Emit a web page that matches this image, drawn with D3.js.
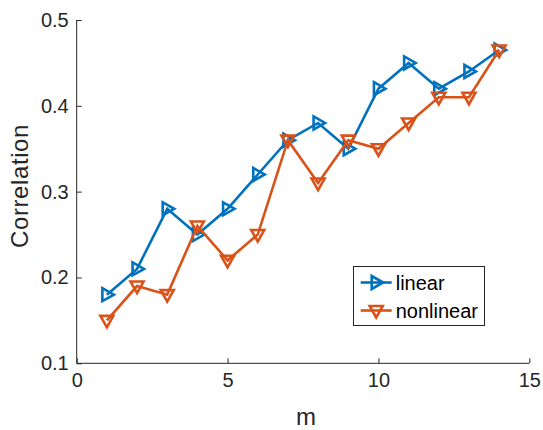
<!DOCTYPE html>
<html><head><meta charset="utf-8">
<script src="https://cdn.jsdelivr.net/npm/d3@7"></script>
<style>body{margin:0;background:#fff}svg{display:block;font-family:"Liberation Sans",Arial,sans-serif}</style>
</head><body>
<svg id="c" width="543" height="430"></svg>
<script>
const m = [1,2,3,4,5,6,7,8,9,10,11,12,13,14];
const linear = [0.18,0.21,0.28,0.25,0.28,0.32,0.36,0.38,0.35,0.42,0.45,0.42,0.44,0.465];
const nonlinear = [0.15,0.19,0.18,0.26,0.22,0.25,0.36,0.31,0.36,0.35,0.38,0.41,0.41,0.465];
const xTicks = [0,5,10,15];
const yTicks = [0.1,0.2,0.3,0.4,0.5];
const seriesNames = ["linear","nonlinear"];
const colors = ["#0072BD","#D95319"];

const svg = d3.select("#c");
const x = d3.scaleLinear().domain([0,15]).range([76.7,529.3]);
const y = d3.scaleLinear().domain([0.1,0.5]).range([363.3,20]);
const axisColor = "#262626";

const xa = svg.append("g").attr("transform","translate(0,363.3)")
  .call(d3.axisBottom(x).tickValues(xTicks).tickSize(-5).tickPadding(10).tickFormat(d3.format("d")));
const ya = svg.append("g").attr("transform","translate(76.7,0)")
  .call(d3.axisLeft(y).tickValues(yTicks).tickSize(-5).tickPadding(8).tickFormat(d3.format(".1f")));
[xa,ya].forEach(a=>{
  a.select(".domain").attr("stroke",axisColor).attr("stroke-width",1);
  a.selectAll(".tick line").attr("stroke",axisColor);
  a.selectAll(".tick text").attr("fill",axisColor).style("font-size","20px").style("font-family","'Liberation Sans',Arial,sans-serif");
});
xa.select(".domain").attr("d",`M${x.range()[0]},0H${x.range()[1]}`);
ya.select(".domain").attr("d",`M0,${y.range()[0]}V${y.range()[1]}`);

svg.append("text").attr("x",306).attr("y",425).attr("text-anchor","middle")
  .attr("fill",axisColor).style("font-size","24px").text("m");
svg.append("text").attr("transform","translate(28,186) rotate(-90)").attr("text-anchor","middle")
  .attr("fill",axisColor).style("font-size","24px").style("letter-spacing","0.6px").text("Correlation");

const markerPaths = [
  "M-4.5,-6.5L7,0L-4.5,6.5Z",
  "M-6.5,-4.5L6.5,-4.5L0,7Z"
];
const line = d3.line().x((d,i)=>x(m[i])).y(d=>y(d));
[linear,nonlinear].forEach((vals,k)=>{
  const g = svg.append("g");
  g.append("path").attr("d",line(vals)).attr("fill","none").attr("stroke",colors[k]).attr("stroke-width",2.6);
  g.selectAll("path.mk").data(vals).enter().append("path").attr("class","mk")
    .attr("transform",(d,i)=>`translate(${x(m[i])},${y(d)})`)
    .attr("d",markerPaths[k]).attr("fill","none").attr("stroke",colors[k]).attr("stroke-width",2.6);
});

const lg = svg.append("g");
lg.append("rect").attr("x",353.5).attr("y",266.5).attr("width",131).attr("height",59)
  .attr("fill","#fff").attr("stroke",axisColor).attr("stroke-width",1);
const rowsY = [282.5,310.5];
seriesNames.forEach((n,k)=>{
  lg.append("line").attr("x1",360.7).attr("x2",391.7).attr("y1",rowsY[k]).attr("y2",rowsY[k])
    .attr("stroke",colors[k]).attr("stroke-width",2.6);
  lg.append("path").attr("transform",`translate(376.2,${rowsY[k]})`).attr("d",markerPaths[k])
    .attr("fill","none").attr("stroke",colors[k]).attr("stroke-width",2.6);
  lg.append("text").attr("x",395.7).attr("y",rowsY[k]+7.5).attr("fill","#000")
    .style("font-size","20px").text(n);
});
</script>
</body></html>
